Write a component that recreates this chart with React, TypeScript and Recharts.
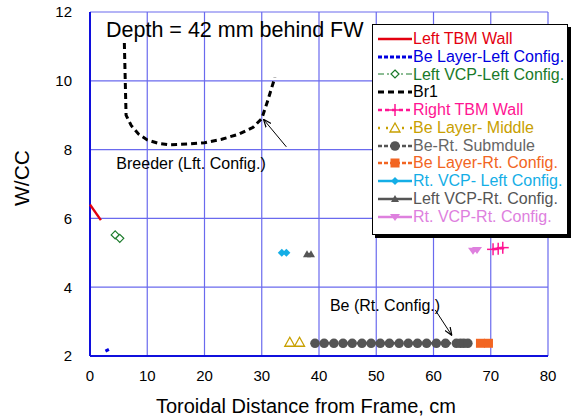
import React from 'react';
import {
  CartesianGrid,
  Legend,
  ReferenceDot,
  ReferenceLine,
  Scatter,
  ScatterChart,
  XAxis,
  YAxis,
} from 'recharts';

type Pt = { x: number; y: number };

const xTicks = [0, 10, 20, 30, 40, 50, 60, 70, 80];
const yTicks = [2, 4, 6, 8, 10, 12];

const leftTbmWall: Pt[] = [
  { x: 0, y: 6.4 },
  { x: 1.9, y: 5.95 },
];
const beLayerLeft: Pt[] = [
  { x: 2.7, y: 2.14 },
  { x: 3.3, y: 2.19 },
];
const leftVcpLeft: Pt[] = [
  { x: 4.4, y: 5.52 },
  { x: 5.2, y: 5.42 },
];
const br1: Pt[] = [
  { x: 6.0, y: 11.1 },
  { x: 6.1, y: 10.4 },
  { x: 6.2, y: 9.7 },
  { x: 6.3, y: 9.0 },
  { x: 7.2, y: 8.7 },
  { x: 8.5, y: 8.45 },
  { x: 10, y: 8.28 },
  { x: 12, y: 8.18 },
  { x: 14, y: 8.14 },
  { x: 17, y: 8.16 },
  { x: 20, y: 8.2 },
  { x: 23, y: 8.3 },
  { x: 26, y: 8.45 },
  { x: 28.5, y: 8.65 },
  { x: 30, y: 8.9 },
  { x: 31, y: 9.4 },
  { x: 32.3, y: 10.1 },
];
const rightTbmWall: Pt[] = [
  { x: 70.4, y: 5.1 },
  { x: 71.3, y: 5.12 },
  { x: 72.1, y: 5.15 },
];
const beLayerMiddle: Pt[] = [
  { x: 34.9, y: 2.4 },
  { x: 36.6, y: 2.4 },
];
const beRtSubmodule: Pt[] = [
  39.3, 40.9, 42.6, 44.2, 45.8, 47.5, 49.1, 50.7, 52.3, 54.0, 55.6, 57.2,
  58.8, 60.5, 62.1, 64.0, 64.7, 65.3, 66.0,
].map((x) => ({ x, y: 2.37 }));
const beLayerRt: Pt[] = [
  { x: 68.2, y: 2.37 },
  { x: 69.6, y: 2.37 },
];
const rtVcpLeft: Pt[] = [
  { x: 33.5, y: 5.0 },
  { x: 34.3, y: 5.0 },
];
const leftVcpRt: Pt[] = [
  { x: 37.9, y: 4.96 },
  { x: 38.6, y: 4.96 },
];
const rtVcpRt: Pt[] = [
  { x: 66.9, y: 5.06 },
  { x: 67.6, y: 5.08 },
];

const FONT = '"Liberation Sans", Arial, sans-serif';
const GRID = '#6a6aee';
const AXIS = '#1010dd';

type MarkerKind = 'none' | 'diamondOpen' | 'cross' | 'triOpen' | 'circle' | 'square' | 'diamond' | 'tri' | 'triDown';

const drawMarker = (kind: MarkerKind, cx: number, cy: number, color: string) => {
  switch (kind) {
    case 'diamondOpen':
      return <polygon points={`${cx},${cy - 4} ${cx + 4},${cy} ${cx},${cy + 4} ${cx - 4},${cy}`} fill="#fff" stroke={color} strokeWidth={1.2} />;
    case 'cross':
      return (
        <g stroke={color} strokeWidth={1.5}>
          <line x1={cx - 6} y1={cy} x2={cx + 6} y2={cy} />
          <line x1={cx} y1={cy - 6} x2={cx} y2={cy + 6} />
        </g>
      );
    case 'triOpen':
      return <polygon points={`${cx},${cy - 5} ${cx + 5},${cy + 4} ${cx - 5},${cy + 4}`} fill="#fff" stroke={color} strokeWidth={1.3} />;
    case 'circle':
      return <circle cx={cx} cy={cy} r={4.8} fill={color} />;
    case 'square':
      return <rect x={cx - 4.5} y={cy - 4.5} width={9} height={9} fill={color} />;
    case 'diamond':
      return <polygon points={`${cx},${cy - 4} ${cx + 4},${cy} ${cx},${cy + 4} ${cx - 4},${cy}`} fill={color} />;
    case 'tri':
      return <polygon points={`${cx},${cy - 4} ${cx + 4},${cy + 3} ${cx - 4},${cy + 3}`} fill={color} />;
    case 'triDown':
      return <polygon points={`${cx - 5},${cy - 3} ${cx + 5},${cy - 3} ${cx},${cy + 4}`} fill={color} />;
    default:
      return <g />;
  }
};

type Series = {
  name: string;
  data: Pt[];
  color: string;
  textColor?: string;
  width: number;
  dash?: string;
  marker: MarkerKind;
};

const series: Series[] = [
  { name: 'Left TBM Wall', data: leftTbmWall, color: '#e3000f', width: 2.5, marker: 'none' },
  { name: 'Be Layer-Left Config.', data: beLayerLeft, color: '#0000e0', width: 3, dash: '4 2', marker: 'none' },
  { name: 'Left VCP-Left Config.', data: leftVcpLeft, color: '#1a7a2a', width: 1, dash: '6 3 2 3', marker: 'diamondOpen' },
  { name: 'Br1', data: br1, color: '#000000', width: 3, dash: '6 4', marker: 'none' },
  { name: 'Right TBM Wall', data: rightTbmWall, color: '#ff1493', width: 2.5, dash: '4 3', marker: 'cross' },
  { name: 'Be Layer- Middle', data: beLayerMiddle, color: '#c8a000', width: 2.5, dash: '2 6', marker: 'triOpen' },
  { name: 'Be-Rt. Submdule', data: beRtSubmodule, color: '#555555', textColor: '#666666', width: 2.5, dash: '4 2', marker: 'circle' },
  { name: 'Be Layer-Rt. Config.', data: beLayerRt, color: '#f26522', width: 2.5, dash: '4 2', marker: 'square' },
  { name: 'Rt. VCP- Left Config.', data: rtVcpLeft, color: '#14aee6', width: 2.5, marker: 'diamond' },
  { name: 'Left VCP-Rt. Config.', data: leftVcpRt, color: '#555555', width: 2.5, marker: 'tri' },
  { name: 'Rt. VCP-Rt. Config.', data: rtVcpRt, color: '#de80de', width: 2.5, marker: 'triDown' },
];

const LegendBox = () => (
  <div
    style={{
      background: '#fff',
      border: '1.5px solid #000',
      boxShadow: '3px 3px 0 #000',
      padding: '5px 0 8px 4px',
      width: 190,
      overflow: 'hidden',
      fontFamily: FONT,
      fontSize: 16,
    }}
  >
    {series.map((s) => (
      <div key={s.name} style={{ display: 'flex', alignItems: 'center', height: 17.8, whiteSpace: 'nowrap' }}>
        <svg width={36} height={14} style={{ flex: 'none' }}>
          <line x1={1} y1={7} x2={35} y2={7} stroke={s.color} strokeWidth={s.width} strokeDasharray={s.dash} />
          {drawMarker(s.marker, 18, 7, s.color)}
        </svg>
        <span style={{ color: s.textColor || s.color }}>{s.name}</span>
      </div>
    ))}
  </div>
);

const TextAt = ({ viewBox, value, size }: any) => {
  if (!viewBox) return null;
  return (
    <text x={viewBox.x} y={viewBox.y} dominantBaseline="central" fontFamily={FONT} fontSize={size} fill="#000">
      {value}
    </text>
  );
};

const App = () => {
  return (
    <div style={{ position: 'absolute', left: 0, top: 0, width: 571, height: 420, background: '#fff' }}>
      <ScatterChart width={571} height={420} margin={{ top: 12, right: 23, bottom: 0, left: 0 }}>
        <defs>
          <marker id="arrowHead" viewBox="0 0 10 10" refX="10" refY="5" markerWidth="8" markerHeight="8" orient="auto">
            <path d="M0,1 L10,5 L0,9" fill="none" stroke="#000" strokeWidth={1.5} />
          </marker>
        </defs>
        <CartesianGrid stroke={GRID} strokeWidth={1.2} horizontalValues={yTicks} verticalValues={xTicks} />
        <XAxis
          type="number"
          dataKey="x"
          domain={[0, 80]}
          ticks={xTicks}
          height={64}
          axisLine={{ stroke: AXIS, strokeWidth: 2 }}
          tickLine={false}
          tick={{ fontSize: 15, fill: '#000', fontFamily: FONT }}
          tickMargin={8}
          label={{
            value: 'Toroidal Distance from Frame, cm',
            position: 'insideBottom',
            offset: 7,
            dx: -13,
            style: { fontSize: 20, fill: '#000', fontFamily: FONT },
          }}
        />
        <YAxis
          type="number"
          dataKey="y"
          domain={[2, 12]}
          ticks={yTicks}
          width={90}
          axisLine={{ stroke: AXIS, strokeWidth: 2 }}
          tickLine={false}
          tick={{ fontSize: 15, fill: '#000', fontFamily: FONT }}
          tickMargin={12}
          label={{
            content: () => (
              <text
                x={21}
                y={178}
                transform="rotate(-90 21 178)"
                textAnchor="middle"
                dominantBaseline="central"
                fontFamily={FONT}
                fontSize={21}
                fill="#000"
              >
                W/CC
              </text>
            ),
          }}
        />
        {series.map((s) => (
          <Scatter
            key={s.name}
            name={s.name}
            data={s.data}
            isAnimationActive={false}
            line={{ stroke: s.color, strokeWidth: s.width, strokeDasharray: s.dash }}
            shape={(p: any) => drawMarker(s.marker, p.cx, p.cy, s.color)}
          />
        ))}
        <ReferenceLine
          segment={[{ x: 34.3, y: 8.08 }, { x: 30.3, y: 8.88 }]}
          stroke="#000"
          strokeWidth={1}
          markerEnd="url(#arrowHead)"
        />
        <ReferenceLine
          segment={[{ x: 60.3, y: 3.34 }, { x: 63.2, y: 2.6 }]}
          stroke="#000"
          strokeWidth={1}
          markerEnd="url(#arrowHead)"
        />
        <ReferenceDot x={2.8} y={11.47} r={0} fill="none" stroke="none" label={<TextAt value="Depth = 42 mm behind FW" size={21.5} />} />
        <ReferenceDot x={4.6} y={7.6} r={0} fill="none" stroke="none" label={<TextAt value="Breeder (Lft. Config.)" size={16} />} />
        <ReferenceDot x={41.9} y={3.48} r={0} fill="none" stroke="none" label={<TextAt value="Be (Rt. Config.)" size={16} />} />
        <Legend
          layout="vertical"
          align="center"
          verticalAlign="middle"
          wrapperStyle={{ left: 372, top: 24, width: 'auto' }}
          content={() => <LegendBox />}
        />
      </ScatterChart>
    </div>
  );
};

export default App;
